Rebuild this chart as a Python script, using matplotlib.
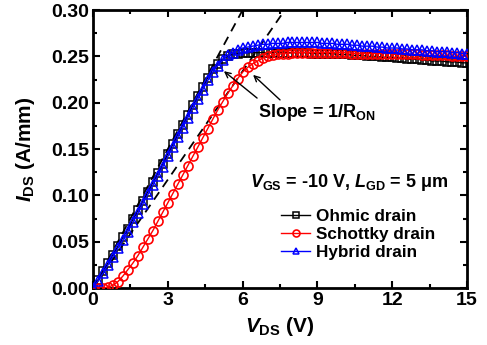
import numpy as np
import matplotlib
matplotlib.use('Agg')
import matplotlib.pyplot as plt
from matplotlib.ticker import MultipleLocator

plt.rcParams['font.family'] = ['Liberation Sans', 'DejaVu Sans']
plt.rcParams['font.weight'] = 'bold'
plt.rcParams['axes.labelweight'] = 'bold'
plt.rcParams['mathtext.fontset'] = 'custom'
plt.rcParams['mathtext.rm'] = 'Liberation Sans:bold'
plt.rcParams['mathtext.it'] = 'Liberation Sans:italic:bold'
plt.rcParams['mathtext.bf'] = 'Liberation Sans:bold'

# sweep, V
vds = np.arange(0, 15.01, 0.2)

# I_DS (A/mm)
ohmic = [0.000, 0.009, 0.018, 0.027, 0.036, 0.045, 0.055, 0.064, 0.074, 0.084,
         0.094, 0.104, 0.114, 0.124, 0.134, 0.145, 0.155, 0.166, 0.176, 0.187,
         0.197, 0.207, 0.217, 0.227, 0.236, 0.242, 0.247, 0.250, 0.252, 0.253,
         0.254, 0.254, 0.254, 0.254, 0.254, 0.254, 0.254, 0.254, 0.254, 0.254,
         0.254, 0.254, 0.254, 0.254, 0.253, 0.253, 0.253, 0.253, 0.253, 0.252,
         0.252, 0.252, 0.251, 0.251, 0.251, 0.250, 0.250, 0.250, 0.249, 0.249,
         0.249, 0.248, 0.248, 0.247, 0.247, 0.247, 0.246, 0.246, 0.245, 0.245,
         0.245, 0.244, 0.244, 0.244, 0.243, 0.243]
schottky = [0.000, 0.000, 0.000, 0.001, 0.003, 0.007, 0.013, 0.020, 0.027, 0.035,
            0.044, 0.053, 0.062, 0.072, 0.082, 0.092, 0.102, 0.112, 0.122, 0.132,
            0.142, 0.152, 0.162, 0.172, 0.182, 0.192, 0.201, 0.210, 0.218, 0.226,
            0.233, 0.238, 0.242, 0.245, 0.248, 0.250, 0.251, 0.252, 0.253, 0.253,
            0.254, 0.254, 0.254, 0.254, 0.254, 0.254, 0.254, 0.254, 0.254, 0.254,
            0.254, 0.254, 0.253, 0.253, 0.253, 0.253, 0.253, 0.253, 0.253, 0.253,
            0.253, 0.252, 0.252, 0.252, 0.252, 0.252, 0.251, 0.251, 0.251, 0.251,
            0.251, 0.251, 0.250, 0.250, 0.250, 0.250]
hybrid = [0.000, 0.008, 0.016, 0.025, 0.034, 0.043, 0.052, 0.061, 0.071, 0.081,
          0.091, 0.101, 0.111, 0.121, 0.131, 0.142, 0.152, 0.163, 0.173, 0.184,
          0.194, 0.204, 0.214, 0.224, 0.233, 0.240, 0.246, 0.251, 0.254, 0.257,
          0.259, 0.260, 0.261, 0.262, 0.263, 0.263, 0.264, 0.264, 0.264, 0.265,
          0.265, 0.265, 0.265, 0.265, 0.265, 0.265, 0.264, 0.264, 0.264, 0.263,
          0.263, 0.263, 0.262, 0.262, 0.261, 0.261, 0.261, 0.260, 0.260, 0.259,
          0.259, 0.259, 0.258, 0.258, 0.257, 0.257, 0.257, 0.256, 0.256, 0.255,
          0.255, 0.255, 0.254, 0.254, 0.253, 0.253]

# 1/R_ON fit slopes (A/mm per V)
fit_slopes = [0.050, 0.039]

fig = plt.figure(figsize=(4.87, 3.45), dpi=100)
ax = fig.add_axes([0.191, 0.165, 0.768, 0.806])

# fitted slope lines
for s in fit_slopes:
    xs = np.array([0, 0.3 / s])
    ax.plot(xs, s * xs, ls=(0, (5, 3.5)), color='black', lw=1.3, zorder=1)

ax.plot(vds, ohmic, color='black', lw=1, marker='s', ms=5.5, mfc='none', mew=1.1,
        label='Ohmic drain', zorder=2)
ax.plot(vds, schottky, color='red', lw=1, marker='o', ms=6.5, mfc='none', mew=1.2,
        label='Schottky drain', zorder=3)
ax.plot(vds, hybrid, color='blue', lw=1, marker='^', ms=7, mfc='none', mew=1.1,
        label='Hybrid drain', zorder=4)

# arrows to the fit lines
ap = dict(arrowstyle='->', color='black', lw=1, shrinkA=0, shrinkB=0)
ax.annotate('', xy=(5.25, 0.234), xytext=(6.58, 0.205), arrowprops=ap)
ax.annotate('', xy=(6.42, 0.230), xytext=(7.50, 0.203), arrowprops=ap)
ax.text(6.62, 0.189, r'Slope = 1/R$_{\mathrm{ON}}$', fontsize=13, va='center', ha='left')

ax.text(6.3, 0.114, r'$V_{\mathrm{GS}}$ = -10 V, $L_{\mathrm{GD}}$ = 5 μm', fontsize=13,
        va='center', ha='left')
leg = ax.legend(loc='upper left', bbox_to_anchor=(0.48, 0.315), frameon=False,
                fontsize=12.3, handlelength=1.7, handletextpad=0.35, labelspacing=0.18,
                borderpad=0, numpoints=1)
for h in leg.legend_handles:
    h.set_markersize(5)

ax.set_xlim(0, 15)
ax.set_ylim(0, 0.30)
ax.xaxis.set_major_locator(MultipleLocator(3))
ax.xaxis.set_minor_locator(MultipleLocator(1.5))
ax.yaxis.set_major_locator(MultipleLocator(0.05))
ax.yaxis.set_minor_locator(MultipleLocator(0.025))
ax.yaxis.set_major_formatter(matplotlib.ticker.FormatStrFormatter('%.2f'))
ax.tick_params(which='both', direction='in', top=True, right=True, width=1.5,
               labelsize=14, pad=3)
ax.tick_params(which='major', length=5)
ax.tick_params(which='minor', length=3)
for sp in ax.spines.values():
    sp.set_linewidth(2)

ax.set_xlabel(r'$V_{\mathrm{DS}}$ (V)', fontsize=15, labelpad=4)
ax.set_ylabel(r'$I_{\mathrm{DS}}$ (A/mm)', fontsize=15, labelpad=10)

fig.savefig('out.png', dpi=100)
